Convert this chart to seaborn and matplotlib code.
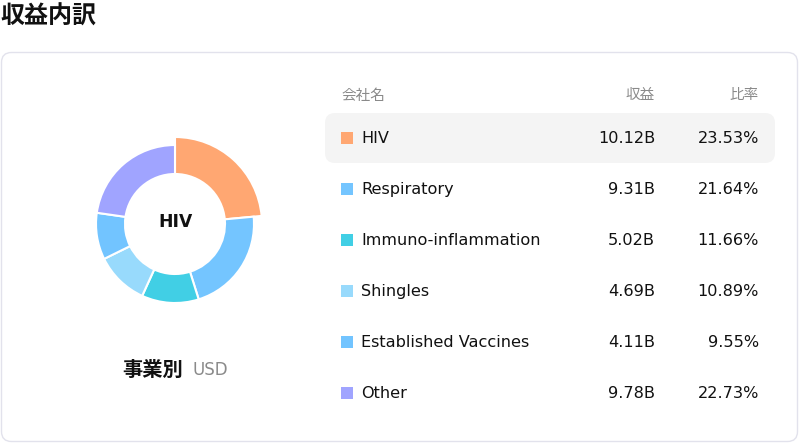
import matplotlib
matplotlib.use("Agg")
import matplotlib.pyplot as plt
from matplotlib.patches import FancyBboxPatch, Rectangle
import seaborn as sns

sns.set_theme(style="white")
plt.rcParams['font.family'] = ['DejaVu Sans', 'Noto Sans CJK JP']

# ---- data ----
categories = ["HIV", "Respiratory", "Immuno-inflammation", "Shingles",
              "Established Vaccines", "Other"]
revenue = [10.12, 9.31, 5.02, 4.69, 4.11, 9.78]
revenue_labels = ["10.12B", "9.31B", "5.02B", "4.69B", "4.11B", "9.78B"]
share_labels = ["23.53%", "21.64%", "11.66%", "10.89%", "9.55%", "22.73%"]
colors = ["#FFA772", "#74C5FF", "#41CFE5", "#98DAFC", "#72C4FF", "#A0A4FF"]
highlight = "HIV"

W, H = 800, 444
fig = plt.figure(figsize=(W / 100, H / 100), dpi=100)
fig.patch.set_facecolor("white")

# overlay axes in pixel coordinates
ov = fig.add_axes([0, 0, 1, 1])
ov.set_xlim(0, W)
ov.set_ylim(H, 0)
ov.axis("off")

ov.text(0, 17, "収益内訳", fontsize=17.3, fontweight="bold", color="#111111",
        ha="left", va="center")

box = FancyBboxPatch((1.5, 52.5), 796, 389, boxstyle="round,pad=0,rounding_size=10",
                     facecolor="white", edgecolor="#E2E2EC", linewidth=1)
ov.add_patch(box)

# table header
hdr_y = 95
ov.text(341, hdr_y, "会社名", fontsize=10.5, color="#8A8A8A", ha="left", va="center")
ov.text(655, hdr_y, "収益", fontsize=10.5, color="#8A8A8A", ha="right", va="center")
ov.text(759, hdr_y, "比率", fontsize=10.5, color="#8A8A8A", ha="right", va="center")

row_y0, row_dy = 138, 51
for i, (cat, rl, sl, c) in enumerate(zip(categories, revenue_labels, share_labels, colors)):
    y = row_y0 + i * row_dy
    if cat == highlight:
        ov.add_patch(FancyBboxPatch((325, y - 25), 450, 50,
                                    boxstyle="round,pad=0,rounding_size=10",
                                    facecolor="#F4F4F4", edgecolor="none"))
    ov.add_patch(Rectangle((341, y - 6), 12, 12, facecolor=c, edgecolor="none"))
    ov.text(361, y, cat, fontsize=11.6, color="#111111", ha="left", va="center")
    ov.text(655, y, rl, fontsize=11.6, color="#111111", ha="right", va="center")
    ov.text(759, y, sl, fontsize=11.6, color="#111111", ha="right", va="center")

# donut
cx, cy, r_px = 175, 224, 79
half = 100
pax = fig.add_axes([(cx - half) / W, (H - cy - half) / H, 2 * half / W, 2 * half / H])
pax.set_facecolor("none")
wedges, _ = pax.pie(revenue, colors=colors, startangle=90, counterclock=False,
                    radius=1.0, wedgeprops=dict(width=(r_px - 50) / r_px,
                                                edgecolor="white", linewidth=1.5))
big = 87 / r_px
inner = 50 / r_px
for w, cat in zip(wedges, categories):
    if cat == highlight:
        w.set_radius(big)
        w.set_width(big - inner)
lim = half / r_px
pax.set_xlim(-lim, lim)
pax.set_ylim(-lim, lim)
pax.set_aspect("equal")
pax.axis("off")
pax.text(0, 0.02, highlight, fontsize=12.3, fontweight="bold", color="#111111",
         ha="center", va="center")

ov.text(183, 370, "事業別", fontsize=14.6, fontweight="bold", color="#111111",
        ha="right", va="center")
ov.text(192, 370, "USD", fontsize=12, color="#8A8A8A", ha="left", va="center")

fig.savefig("out.png", dpi=100)
